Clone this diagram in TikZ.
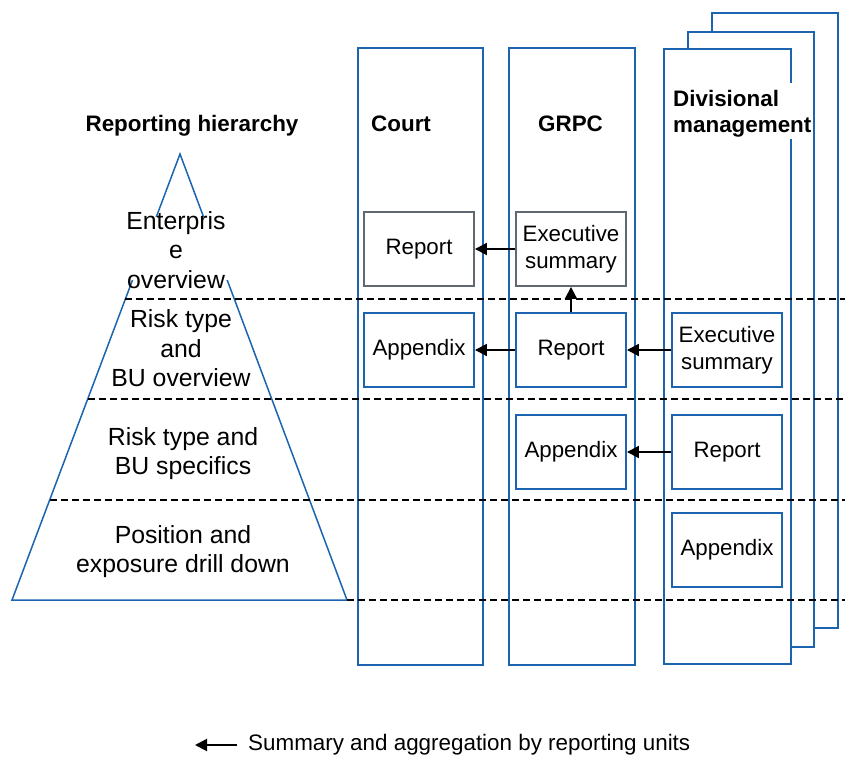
\documentclass[tikz,border=0pt]{standalone}
\usepackage{fontspec}
\setmainfont{Liberation Sans}
\usetikzlibrary{arrows.meta}
\definecolor{frameblue}{RGB}{28,100,176}
\definecolor{framegray}{RGB}{96,104,114}
\tikzset{
  colframe/.style={draw=frameblue, line width=1.9pt},
  stackframe/.style={draw=frameblue, line width=1.9pt, fill=white},
  docbox/.style={draw=frameblue, line width=1.9pt, minimum width=110pt, minimum height=74pt,
                 align=center, inner sep=2pt, font=\fontsize{22.3}{26.7}\selectfont},
  sumbox/.style={docbox, draw=framegray},
  title/.style={font=\fontsize{22.4}{26.5}\selectfont\bfseries, inner sep=0pt},
  level/.style={align=center, inner sep=0pt, font=\fontsize{24.8}{29.5}\selectfont},
  levelline/.style={black, line width=1.5pt, dash pattern=on 7pt off 4pt},
  flow/.style={black, line width=2pt, -{Triangle[length=12pt, width=12pt]}},
}
\begin{document}
\begin{tikzpicture}[x=1pt, y=-1pt]
  \useasboundingbox (0,0) rectangle (845,759);

  % reporting pyramid
  \draw[frameblue, line width=1.5pt] (180,154) -- (12,600) -- (347,600) -- cycle;
  \fill[white] (122,217) rectangle (238,280);
  \node[level] (ent) at (176,250) {Enterpris\\e\\overview};
  \node[level] (rbo) at (181,348.5) {Risk type\\and\\BU overview};
  \node[level] (rbs) at (183,453.5) {Risk type and\\BU specifics};
  \node[level] (pos) at (183,551.5) {Position and\\exposure drill down};

  % reporting unit columns
  \draw[colframe] (358,48) rectangle (483,665);
  \draw[colframe] (509,48) rectangle (635,665);
  \draw[stackframe] (712,13) rectangle (838,628);
  \draw[stackframe] (688,32) rectangle (814,647);
  \draw[stackframe] (664,49) rectangle (791,664);
  \fill[white] (786,83) rectangle (797,139);

  % headings
  \node[title, anchor=base] (hier) at (192,132) {Reporting hierarchy};
  \node[title, anchor=base west] (court) at (371,132) {Court};
  \node[title, anchor=base] (grpc) at (570.5,132) {GRPC};
  \node[title, anchor=north west, align=left] (div) at (673,90) {Divisional\\management};

  % level separators
  \draw[levelline] (125.4,299) -- (845,299);
  \draw[levelline] (87.7,399) -- (845,399);
  \draw[levelline] (49.7,500) -- (845,500);
  \draw[levelline] (347,600) -- (845,600);

  % documents
  \node[sumbox] (courtrep) at (419,249) {Report};
  \node[docbox] (courtapp) at (419,350) {Appendix};
  \node[sumbox] (grpcsum) at (571,249) {Executive\\summary};
  \node[docbox] (grpcrep) at (571,350) {Report};
  \node[docbox] (grpcapp) at (571,452) {Appendix};
  \node[docbox] (divsum) at (727,350) {Executive\\summary};
  \node[docbox] (divrep) at (727,452) {Report};
  \node[docbox] (divapp) at (727,550) {Appendix};

  % aggregation flow
  \draw[flow] (grpcsum) -- (courtrep);
  \draw[flow] (grpcrep) -- (grpcsum);
  \draw[flow] (grpcrep) -- (courtapp);
  \draw[flow] (divsum) -- (grpcrep);
  \draw[flow] (divrep) -- (grpcapp);

  % legend
  \coordinate (legfrom) at (237,745);
  \coordinate (legto) at (195,745);
  \draw[flow] (legfrom) -- (legto);
  \node[anchor=west, inner sep=0pt, font=\fontsize{22.4}{26}\selectfont] (legtxt) at (248,745)
    {Summary and aggregation by reporting units};
\end{tikzpicture}
\end{document}
